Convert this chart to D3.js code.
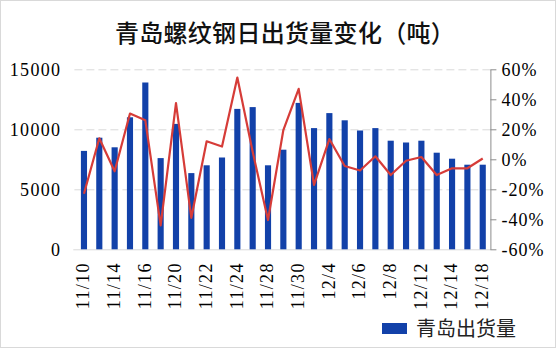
<!DOCTYPE html>
<html>
<head>
<meta charset="utf-8">
<script src="https://cdn.jsdelivr.net/npm/d3@7"></script>
<style>
  html, body { margin: 0; padding: 0; background: #fff; }
  svg { display: block; }
  svg text.num { font-family: "Liberation Serif"; font-size: 18px; }
</style>
</head>
<body>
<svg id="chart" width="556" height="348"></svg>
<script>
const categories = ["11/10","11/13","11/14","11/15","11/16","11/17","11/20","11/21","11/22","11/23","11/24","11/27","11/28","11/29","11/30","12/1","12/4","12/5","12/6","12/7","12/8","12/11","12/12","12/13","12/14","12/15","12/18"];
const shipments = [8200,9300,8500,11000,13900,7600,10450,6350,7000,7650,11700,11850,7000,8300,12200,10100,11350,10750,9900,10100,9050,8900,9050,8050,7550,7050,7050];
const changePct = [-23,14,-8,30.5,26,-44,37.5,-39,12,8.5,54.5,5,-40.5,19.5,47,-17,13.5,-4.5,-7.5,2,-10.5,-1,1.5,-10.5,-6,-6,0.5];
const leftTicks = [0,5000,10000,15000];
const rightTicks = [-60,-40,-20,0,20,40,60];
const xTickLabels = categories.filter((d,i) => i % 2 === 0);
const titleText = "青岛螺纹钢日出货量变化（吨）";
const legendText = "青岛出货量";

const svg = d3.select("#chart");
const W = 556, H = 348;
const plot = {left: 76.3, right: 490.4, top: 69.3, bottom: 249.3};
const cjk = '"Noto Sans CJK SC"';
const barColor = "#1241a9";
const lineColor = "#d63c38";

// border
svg.append("rect").attr("x",0.5).attr("y",0.5).attr("width",W-1).attr("height",H-1)
  .attr("fill","#fff").attr("stroke","#d9d9d9");

const x = d3.scaleBand().domain(categories).range([plot.left, plot.right])
  .paddingInner(0.6).paddingOuter(0.3);
const yL = d3.scaleLinear().domain([0,15000]).range([plot.bottom, plot.top]);
const yR = d3.scaleLinear().domain([-60,60]).range([plot.bottom, plot.top]);

// gridlines
const grid = svg.append("g").attr("transform",`translate(${plot.right},0)`)
  .call(d3.axisLeft(yL).tickValues(leftTicks).tickSize(plot.right - plot.left + 3).tickFormat(""));
grid.select(".domain").remove();
grid.selectAll(".tick line").attr("stroke","#d9d9d9").attr("stroke-width",1)
  .attr("stroke-dasharray", d => d === 0 ? null : "8,4");

function styleText(sel, ls) {
  sel.classed("num", true)
    .attr("font-family", "Liberation Serif")
    .style("font-family", '"Liberation Serif"')
    .style("letter-spacing", ls)
    .attr("fill","#000");
}

// left axis labels
const gL = svg.append("g").attr("transform",`translate(${plot.left},0)`)
  .call(d3.axisLeft(yL).tickValues(leftTicks).tickSize(0).tickPadding(15).tickFormat(d => String(d)));
gL.attr("font-family", "Liberation Serif").attr("font-size", 18);
gL.select(".domain").remove();
styleText(gL.selectAll("text"), "1.3px");

// right axis
const gR = svg.append("g").attr("transform",`translate(${plot.right},0)`)
  .call(d3.axisRight(yR).tickValues(rightTicks).tickSize(6).tickSizeOuter(0).tickPadding(5)
    .tickFormat(d => d + "%"));
gR.attr("font-family", "Liberation Serif").attr("font-size", 18);
gR.select(".domain").attr("stroke","#8c8c8c");
gR.selectAll(".tick line").attr("stroke","#8c8c8c");
styleText(gR.selectAll("text"), "1px");

// bars
svg.append("g").selectAll("rect").data(categories).join("rect")
  .attr("x", d => x(d))
  .attr("width", x.bandwidth())
  .attr("y", (d,i) => yL(shipments[i]))
  .attr("height", (d,i) => yL(0) - yL(shipments[i]))
  .attr("fill", barColor);

// line
const line = d3.line()
  .x((d,i) => x(categories[i]) + x.bandwidth()/2)
  .y(d => yR(d));
svg.append("path").datum(changePct).attr("d", line)
  .attr("fill","none").attr("stroke",lineColor).attr("stroke-width",2.2)
  .attr("stroke-linejoin","round");

// x axis labels
const gX = svg.append("g").attr("transform",`translate(0,${plot.bottom})`)
  .call(d3.axisBottom(x).tickValues(xTickLabels).tickSize(0));
gX.attr("font-family", "Liberation Serif").attr("font-size", 18);
gX.select(".domain").remove();
styleText(gX.selectAll("text"), "1.3px");
gX.selectAll("text")
  .attr("text-anchor","end")
  .attr("transform","rotate(-90)")
  .attr("x",-13).attr("y",-1).attr("dy","0.35em");

// title
svg.append("text").attr("x",285).attr("y",42).attr("text-anchor","middle")
  .style("font-family",cjk).style("font-size","24px").style("font-weight",500).attr("fill","#111")
  .style("letter-spacing","0.3px")
  .text(titleText);

// legend
svg.append("rect").attr("x",382).attr("y",323).attr("width",25).attr("height",11).attr("fill",barColor);
svg.append("text").attr("x",416).attr("y",336).style("font-family",cjk).style("font-size","20px")
  .attr("fill","#222").text(legendText);
</script>
</body>
</html>
